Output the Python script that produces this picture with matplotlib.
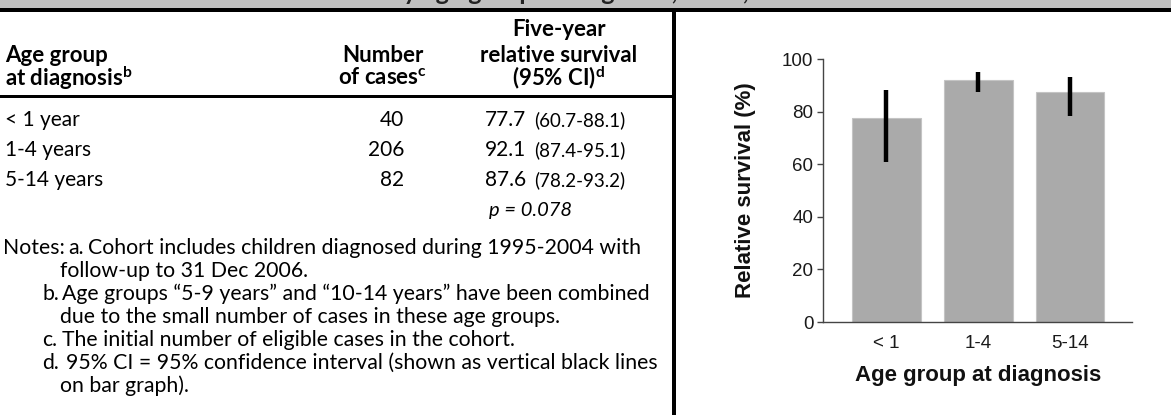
import matplotlib
matplotlib.use("Agg")
import matplotlib.pyplot as plt
from matplotlib.patches import Rectangle

# ---------------- data ----------------
age_groups = ["< 1 year", "1-4 years", "5-14 years"]
age_short = ["< 1", "1-4", "5-14"]
n_cases = [40, 206, 82]
survival = [77.7, 92.1, 87.6]
ci_low = [60.7, 87.4, 78.2]
ci_high = [88.1, 95.1, 93.2]
p_value = "p = 0.078"
note_labels = ["a.", "", "b.", "", "c.", "d.", ""]
note_lines = [
    "Cohort includes children diagnosed during 1995-2004 with",
    "follow-up to 31 Dec 2006.",
    "Age groups \u201c5-9 years\u201d and \u201c10-14 years\u201d have been combined",
    "due to the small number of cases in these age groups.",
    "The initial number of eligible cases in the cohort.",
    "95% CI = 95% confidence interval (shown as vertical black lines",
    "on bar graph).",
]
title = "Relative survival by age group at diagnosis, NSW, 1995-2004"

W, H = 1171, 415
plt.rcParams['mathtext.fontset'] = 'custom'
plt.rcParams['mathtext.rm'] = 'Lato'
plt.rcParams['mathtext.bf'] = 'Lato:bold'
plt.rcParams['mathtext.it'] = 'Lato:italic'

fig = plt.figure(figsize=(W / 100, H / 100), dpi=100)
lay = fig.add_axes([0, 0, 1, 1])
lay.set_xlim(0, W)
lay.set_ylim(H, 0)
lay.axis("off")

TF = "Lato"
# title band (only the descenders of the title are visible)
lay.add_patch(Rectangle((0, 0), W, 8, color="#bfbfbf", lw=0, zorder=1))
lay.text(540, -0.5, title, fontsize=18, fontweight="bold", family=TF,
         ha="center", va="baseline", color="#222222", zorder=2)
lay.add_patch(Rectangle((0, 8), W, 4, color="black", lw=0, zorder=3))
# divider
lay.add_patch(Rectangle((672, 12), 3.5, H - 12, color="black", lw=0))
# header underline
lay.add_patch(Rectangle((0, 95), 673, 3, color="black", lw=0))

hs = 16
lay.text(559, 30, "Five-year", fontsize=hs, fontweight="bold", family=TF, ha="center", va="center")
lay.text(5, 55, "Age group", fontsize=hs, fontweight="bold", family=TF, ha="left", va="center")
lay.text(5, 78, r"at diagnosis$^{\mathbf{b}}$", fontsize=hs, fontweight="bold", family=TF, ha="left", va="center")
lay.text(383, 55, "Number", fontsize=hs, fontweight="bold", family=TF, ha="center", va="center")
lay.text(383, 78, r"of cases$^{\mathbf{c}}$", fontsize=hs, fontweight="bold", family=TF, ha="center", va="center")
lay.text(559, 55, "relative survival", fontsize=hs, fontweight="bold", family=TF, ha="center", va="center")
lay.text(559, 78, r"(95% CI)$^{\mathbf{d}}$", fontsize=hs, fontweight="bold", family=TF, ha="center", va="center")

rs = 15
row_y = [120, 150, 180]
for i in range(3):
    y = row_y[i]
    lay.text(5, y, age_groups[i], fontsize=rs, family=TF, ha="left", va="center")
    lay.text(404, y, f"{n_cases[i]}", fontsize=rs, family=TF, ha="right", va="center")
    lay.text(485, y, f"{survival[i]:.1f}", fontsize=rs, family=TF, ha="left", va="center")
    lay.text(534, y, f"({ci_low[i]:.1f}-{ci_high[i]:.1f})", fontsize=13.5, family=TF, ha="left", va="center")
lay.text(489, 210, p_value, fontsize=14.5, family=TF, style="italic", ha="left", va="center")

ns = 15.3
lay.text(3, 248, "Notes:", fontsize=ns, family=TF, ha="left", va="center")
for j, (lab, txt) in enumerate(zip(note_labels, note_lines)):
    y = 248 + 23 * j
    if lab == "a.":
        lay.text(68, y, lab, fontsize=ns, family=TF, ha="left", va="center")
        lay.text(88, y, txt, fontsize=ns, family=TF, ha="left", va="center")
    elif lab:
        lay.text(42, y, lab, fontsize=ns, family=TF, ha="left", va="center")
        lay.text(62 if lab != "d." else 66, y, txt, fontsize=ns, family=TF, ha="left", va="center")
    else:
        lay.text(60, y, txt, fontsize=ns, family=TF, ha="left", va="center")

# ---------------- bar chart ----------------
CF = "Liberation Sans"
x0, x1, y0, y1 = 823, 1132, 322, 59
ax = fig.add_axes([x0 / W, (H - y0) / H, (x1 - x0) / W, (y0 - y1) / H])
xs = list(range(len(survival)))
ax.bar(xs, survival, width=0.75, color="#aaaaaa", edgecolor="#c4c4c4", linewidth=0.8, zorder=2)
ax.vlines(xs, ci_low, ci_high, colors="black", linewidth=3.2, zorder=3)
ax.set_xlim(-0.685, 2.674)
ax.set_ylim(0, 100)
ax.set_yticks([0, 20, 40, 60, 80, 100])
ax.set_xticks(xs)
ax.set_xticklabels(age_short)
for s in ["top", "right"]:
    ax.spines[s].set_visible(False)
for s in ["left", "bottom"]:
    ax.spines[s].set_color("#444444")
    ax.spines[s].set_linewidth(1.0)
ax.tick_params(axis="y", length=4, width=1, color="#444444", labelsize=13.5,
               labelcolor="#1a1a1a", pad=3)
ax.tick_params(axis="x", length=0, labelsize=13.5, labelcolor="#1a1a1a", pad=9)
for lbl in ax.get_xticklabels() + ax.get_yticklabels():
    lbl.set_family(CF)
ax.patch.set_alpha(0)
lay.text(978, 375, "Age group at diagnosis", fontsize=16, fontweight="bold", family=CF,
         ha="center", va="center", color="#111111")
lay.text(745, 190, "Relative survival (%)", fontsize=16, fontweight="bold", family=CF,
         ha="center", va="center", rotation=90, color="#111111")

fig.savefig("out.png", dpi=100)
